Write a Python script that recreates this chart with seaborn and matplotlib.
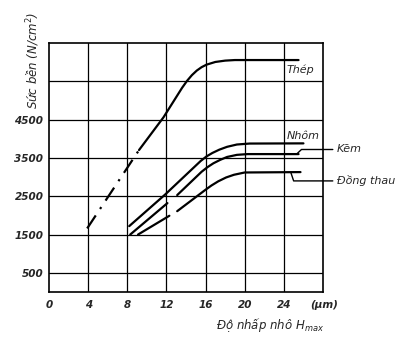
import matplotlib
matplotlib.use("Agg")
import matplotlib.pyplot as plt
import seaborn as sns
import pandas as pd
from matplotlib.transforms import blended_transform_factory

# ---- data ----
x_ticks = [0, 4, 8, 12, 16, 20, 24]
y_ticks = [500, 1500, 2500, 3500, 4500]
y_grid = [500, 1500, 2500, 3500, 4500, 5500]

thep_dash_x = [3.9, 9.2]
thep_dash_y = [1660, 3706]
thep_x = [9.2, 11.7, 13.6, 14.1, 14.6, 15.1, 15.6, 16.1, 17.0, 18.0, 19.0, 25.5]
thep_y = [3706, 4560, 5330, 5510, 5660, 5780, 5870, 5935, 6005, 6040, 6055, 6055]

nhom_x = [8.2, 11.85, 15.5, 16.1, 16.7, 17.4, 18.2, 19.2, 20.5, 26.0]
nhom_y = [1720, 2540, 3420, 3540, 3630, 3715, 3790, 3850, 3875, 3880]

kem_x1 = [8.3, 12.1]
kem_y1 = [1500, 2320]
kem_x2 = [13.1, 15.6, 16.2, 16.8, 17.5, 18.2, 19.2, 20.3, 25.5]
kem_y2 = [2530, 3140, 3260, 3360, 3450, 3525, 3580, 3600, 3600]

dong_x1 = [9.1, 12.3]
dong_y1 = [1500, 1990]
dong_x2 = [13.1, 16.0, 16.6, 17.3, 18.1, 18.9, 20.0, 25.7]
dong_y2 = [2110, 2670, 2780, 2890, 2990, 3060, 3120, 3130]

kem_leader_x = [25.3, 25.8, 29.0]
kem_leader_y = [3600, 3720, 3720]
dong_leader_x = [24.7, 25.0, 29.0]
dong_leader_y = [3130, 2900, 2900]

sns.set_style("white")
plt.rcParams['font.family'] = ['DejaVu Sans']

fig = plt.figure(figsize=(4.18, 3.40), dpi=100)
ax = fig.add_axes([49/418, 1-292/340, (323-49)/418, (292-43)/340])
ax.set_xlim(0, 28)
ax.set_ylim(0, 6500)

for gx in x_ticks[1:]:
    ax.axvline(gx, color='black', lw=0.9, zorder=1)
for gy in y_grid:
    ax.axhline(gy, color='black', lw=0.9, zorder=1)

def seg(xs, ys, **kw):
    df = pd.DataFrame({'x': xs, 'y': ys})
    sns.lineplot(data=df, x='x', y='y', ax=ax, sort=False, estimator=None,
                 color='black', lw=1.6, zorder=3, **kw)

seg(thep_dash_x, thep_dash_y, linestyle=(0, (7, 3.5, 1, 3.5)))
seg(thep_x, thep_y)
seg(nhom_x, nhom_y)
seg(kem_x1, kem_y1)
seg(kem_x2, kem_y2)
seg(dong_x1, dong_y1)
seg(dong_x2, dong_y2)

for lx, ly in [(kem_leader_x, kem_leader_y), (dong_leader_x, dong_leader_y)]:
    ax.plot(lx, ly, color='black', lw=1.0, clip_on=False, zorder=3)

for s in ax.spines.values():
    s.set_color('black')
    s.set_linewidth(1.2)

tick_font = dict(fontsize=7.5, style='italic', fontweight='bold')
ax.set_xticks(x_ticks)
ax.set_xticklabels([str(v) for v in x_ticks], **tick_font)
ax.set_yticks(y_ticks)
ax.set_yticklabels([str(v) for v in y_ticks], **tick_font)
ax.tick_params(axis='x', length=0, pad=6)
ax.tick_params(axis='y', length=0, pad=4)
ax.set_xlabel('')
ax.set_ylabel('')

trans = blended_transform_factory(ax.transData, ax.transAxes)
ax.text(28.1, -0.032, '(μm)', transform=trans, ha='center', va='top', **tick_font)
ax.text(22.6, -0.098, 'Độ nhấp nhô H$_{max}$', transform=trans, ha='center', va='top',
        fontsize=8.5, style='italic')
fig.text(33/418, 1-60/340, 'Sức bền (N/cm$^2$)', rotation=90, ha='center', va='center',
         fontsize=8.5, style='italic')

lab = dict(fontsize=8, style='italic')
ax.text(24.3, 5800, 'Thép', ha='left', va='center', **lab)
ax.text(24.3, 4060, 'Nhôm', ha='left', va='center', **lab)
ax.text(29.4, 3720, 'Kẽm', ha='left', va='center', clip_on=False, **lab)
ax.text(29.4, 2900, 'Đồng thau', ha='left', va='center', clip_on=False, **lab)

fig.savefig('out.png', dpi=100, facecolor='white')
